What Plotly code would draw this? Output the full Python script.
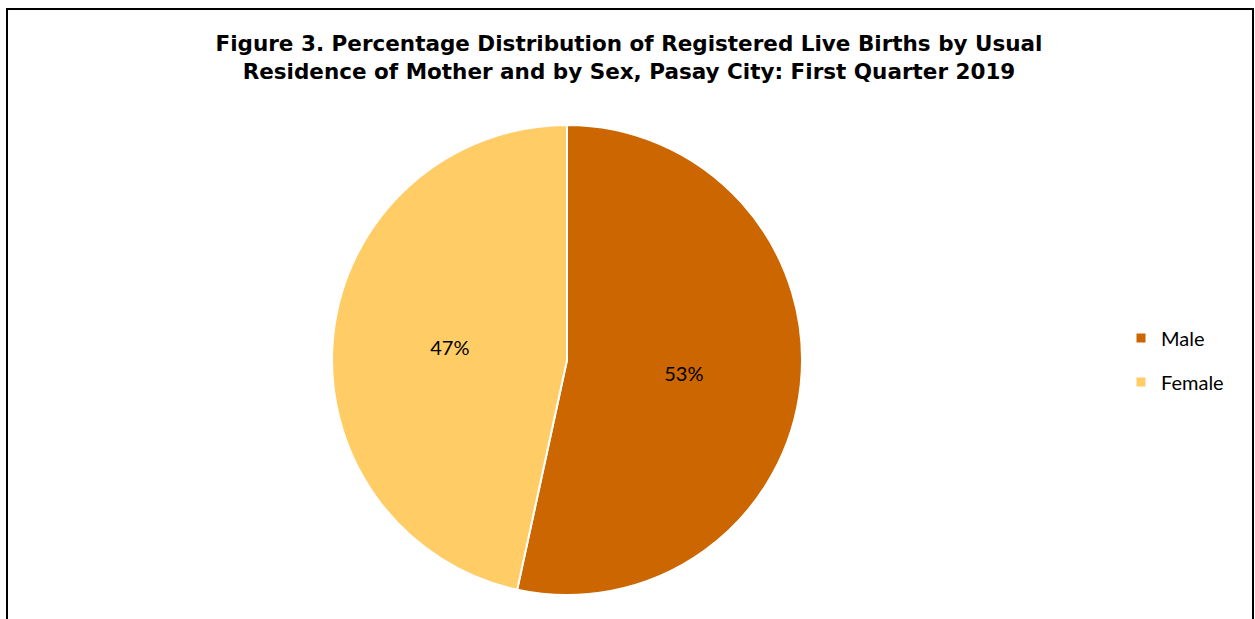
import plotly.graph_objects as go

labels = ["Male", "Female"]
values = [53.4, 46.6]
colors = ["#CC6600", "#FFCC66"]
title_text = ("Figure 3. Percentage Distribution of Registered Live Births by Usual<br>"
              "Residence of Mother and by Sex, Pasay City: First Quarter 2019")

W, H = 1255, 619
ML, MR, MT, MB = 0, 0, 125, 24
cx = 567 / W

fig = go.Figure(go.Pie(
    labels=labels,
    values=values,
    sort=False,
    direction="clockwise",
    rotation=0,
    marker=dict(colors=colors, line=dict(color="white", width=2)),
    textinfo="percent",
    texttemplate="%{percent:.0%}",
    textposition="inside",
    insidetextorientation="horizontal",
    textfont=dict(family="Lato", size=20, color="black"),
    domain=dict(x=[cx - 0.19, cx + 0.19], y=[0, 1]),
    hoverinfo="label+percent",
    showlegend=False,
))

# legend entries (square markers) matching the slices
for lab, col in zip(labels, colors):
    fig.add_trace(go.Scatter(
        x=[None], y=[None], mode="markers", name=lab,
        legendgroup=lab,
        marker=dict(symbol="square", size=9, color=col),
        showlegend=True,
    ))

fig.update_layout(
    width=W, height=H,
    margin=dict(l=ML, r=MR, t=MT, b=MB),
    paper_bgcolor="white",
    plot_bgcolor="white",
    xaxis=dict(visible=False),
    yaxis=dict(visible=False),
    title=dict(
        text=title_text,
        x=629 / W, xanchor="center",
        y=1 - 51 / H, yanchor="middle",
        yref="container",
        font=dict(family="DejaVu Sans", size=21.5,
                  color="black", weight="bold"),
    ),
    legend=dict(
        x=1121 / W, xanchor="left",
        y=0.5, yanchor="middle",
        font=dict(family="Lato", size=20, color="black"),
        bgcolor="rgba(0,0,0,0)",
        traceorder="grouped",
        tracegroupgap=15,
        itemwidth=30,
    ),
    showlegend=True,
    shapes=[dict(
        type="rect", xref="paper", yref="paper",
        x0=7 / W, x1=1253 / W,
        y0=-0.2, y1=(H - MB - 9) / (H - MT - MB),
        line=dict(color="black", width=2),
        layer="below",
    )],
)

fig.write_html("out.html", config={"displayModeBar": False},
               post_script="document.body.style.margin='0';")
